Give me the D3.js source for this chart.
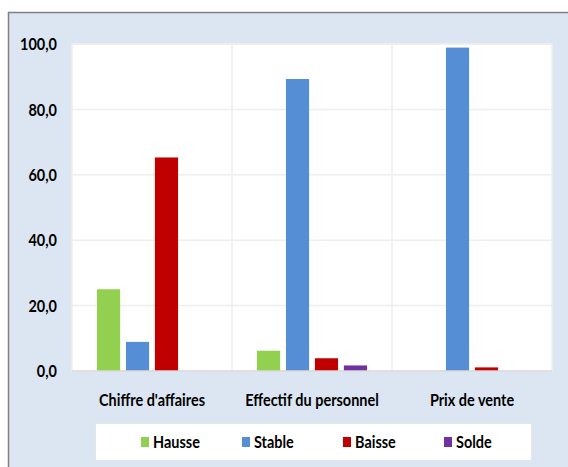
<!DOCTYPE html>
<html>
    <head>
        <meta charset="utf-8">
        <title>Enquête - Chart D3</title>
        <script src="https://d3js.org/d3.v7.min.js"></script>
    </head>

    <body>
        <div id="root"></div>
    </body>

    <style>
body {
    margin: 0;
    background: #ffffff;
}
svg {
    display: block;
}
svg text {
    font-family: Lato, "Open Sans", sans-serif;
    font-weight: bold;
    fill: #000000;
}
    </style>

    <script>
        let categories = ['Chiffre d\'affaires', 'Effectif du personnel', 'Prix de vente'];
        let series = ['Hausse', 'Stable', 'Baisse', 'Solde'];
        let hausse = [25.0, 6.2, 0];
        let stable = [8.9, 89.3, 98.9];
        let baisse = [65.3, 3.9, 1.1];
        let solde = [0, 1.7, 0];
        let y_ticks = [0, 20, 40, 60, 80, 100];

        let colors = ['#92d050', '#558ed5', '#c00000', '#7030a0'];
        let values = [hausse, stable, baisse, solde];

        let width = 568;
        let height = 467;
        let plot = { left: 72, right: 552, top: 44, bottom: 371 };
        let squeeze = 0.85;

        // excel text is narrower than Lato, squeeze it horizontally
        let squeeze_text = sel => sel.each(function () {
            let w = this.getComputedTextLength();
            d3.select(this)
                .attr('textLength', w * squeeze)
                .attr('lengthAdjust', 'spacingAndGlyphs');
        });

        let fmt = v => d3.format('.1f')(v).replace('.', ',');

        let svg = d3.select('#root')
            .append('svg')
            .attr('width', width)
            .attr('height', height);

        // outer panel
        svg.append('rect')
            .attr('x', 8.5)
            .attr('y', 12.5)
            .attr('width', width)
            .attr('height', height)
            .attr('fill', '#dce6f2')
            .attr('stroke', '#7f7f7f')
            .attr('stroke-width', 1.5);

        let x0 = d3.scaleBand().domain(categories).range([plot.left, plot.right]);
        let x1 = d3.scaleBand().domain(series)
            .range([x0.bandwidth() / 2 - 55, x0.bandwidth() / 2 + 55])
            .paddingInner(0.2);
        let y = d3.scaleLinear().domain([0, 100]).range([plot.bottom, plot.top]);

        // plot area
        svg.append('rect')
            .attr('x', plot.left)
            .attr('y', plot.top)
            .attr('width', plot.right - plot.left)
            .attr('height', plot.bottom - plot.top)
            .attr('fill', '#ffffff')
            .attr('stroke', '#eeeeee')
            .attr('stroke-width', 1.5);

        svg.append('g')
            .attr('class', 'grid-y')
            .selectAll('line')
            .data(y_ticks.filter(d => d > 0))
            .join('line')
            .attr('x1', plot.left)
            .attr('x2', plot.right)
            .attr('y1', d => y(d))
            .attr('y2', d => y(d))
            .attr('stroke', '#eeeeee')
            .attr('stroke-width', 1.5);

        svg.append('g')
            .attr('class', 'grid-x')
            .selectAll('line')
            .data(categories.slice(1))
            .join('line')
            .attr('x1', d => x0(d))
            .attr('x2', d => x0(d))
            .attr('y1', plot.top)
            .attr('y2', plot.bottom)
            .attr('stroke', '#eeeeee')
            .attr('stroke-width', 1.5);

        // bars
        svg.append('g')
            .attr('class', 'bars')
            .selectAll('g')
            .data(series)
            .join('g')
            .attr('fill', (d, i) => colors[i])
            .selectAll('rect')
            .data((s, i) => values[i].map((v, k) => ({ s, v, cat: categories[k] })))
            .join('rect')
            .attr('x', d => x0(d.cat) + x1(d.s))
            .attr('y', d => y(d.v))
            .attr('width', x1.bandwidth())
            .attr('height', d => y(0) - y(d.v));

        // baseline
        svg.append('line')
            .attr('x1', plot.left)
            .attr('x2', plot.right)
            .attr('y1', y(0))
            .attr('y2', y(0))
            .attr('stroke', '#d9d9d9')
            .attr('stroke-width', 1.5);

        // y axis labels
        svg.append('g')
            .attr('class', 'axis-y')
            .selectAll('text')
            .data(y_ticks)
            .join('text')
            .attr('x', 57)
            .attr('y', d => y(d))
            .attr('dy', '0.36em')
            .attr('text-anchor', 'end')
            .attr('font-size', 17)
            .text(d => fmt(d))
            .call(squeeze_text);

        // category labels
        svg.append('g')
            .attr('class', 'axis-x')
            .selectAll('text')
            .data(categories)
            .join('text')
            .attr('x', d => x0(d) + x0.bandwidth() / 2)
            .attr('y', 406)
            .attr('text-anchor', 'middle')
            .attr('font-size', 17)
            .text(d => d)
            .call(squeeze_text);

        // legend
        let legend = svg.append('g').attr('class', 'legend');
        legend.append('rect')
            .attr('x', 95.5)
            .attr('y', 423.5)
            .attr('width', 436)
            .attr('height', 37)
            .attr('fill', '#ffffff')
            .attr('stroke', '#e6e6e6');

        let lx = d3.scaleBand().domain(series).range([141, 545]);
        let items = legend.selectAll('g.item')
            .data(series)
            .join('g')
            .attr('class', 'item')
            .attr('transform', d => `translate(${lx(d)}, 437)`);
        items.append('rect')
            .attr('width', 8)
            .attr('height', 10)
            .attr('fill', (d, i) => colors[i]);
        items.append('text')
            .attr('x', 12)
            .attr('y', 10.5)
            .attr('font-size', 17)
            .text(d => d)
            .call(squeeze_text);
    </script>
</html>
